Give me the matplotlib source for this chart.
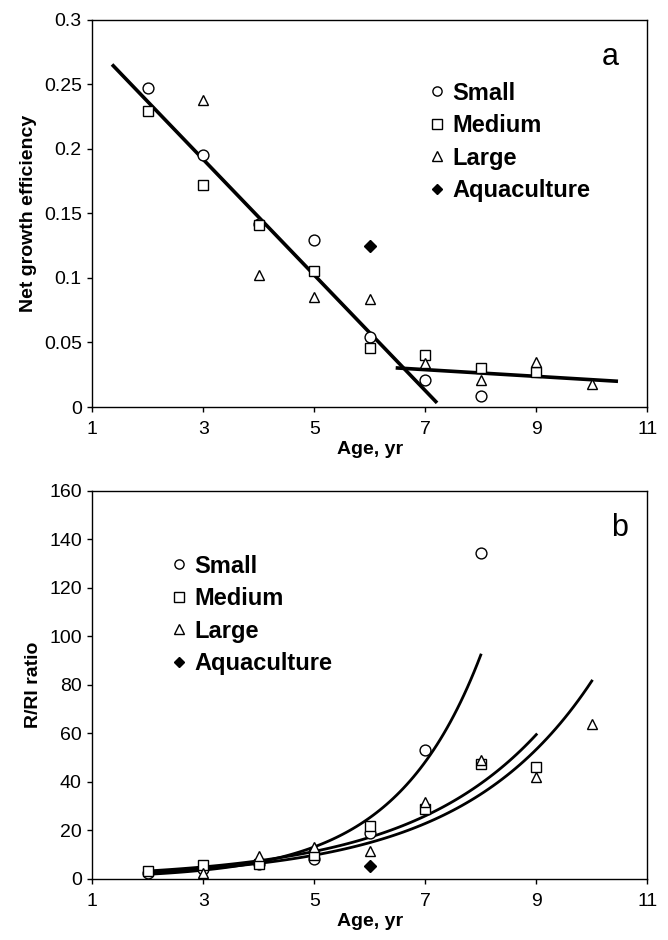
import numpy as np
import matplotlib
matplotlib.use("Agg")
import matplotlib.pyplot as plt
from matplotlib.ticker import FuncFormatter

plt.rcParams['font.family'] = ['Liberation Sans', 'DejaVu Sans']

### DATA ###
# panel a: net growth efficiency by age
nge_small_x = [2, 3, 4, 5, 6, 7, 8]
nge_small_y = [0.247, 0.195, 0.142, 0.129, 0.054, 0.021, 0.0085]
nge_medium_x = [2, 3, 4, 5, 6, 7, 8, 9]
nge_medium_y = [0.229, 0.172, 0.141, 0.105, 0.046, 0.040, 0.030, 0.027]
nge_large_x = [3, 4, 5, 6, 7, 8, 9, 10]
nge_large_y = [0.238, 0.102, 0.085, 0.084, 0.034, 0.021, 0.035, 0.018]
nge_aqua_x = [6]
nge_aqua_y = [0.125]

# panel b: R/RI ratio by age
rr_small_x = [2, 3, 4, 5, 6, 7, 8]
rr_small_y = [2.6, 4.0, 6.0, 8.2, 19.0, 53.0, 134.5]
rr_medium_x = [2, 3, 4, 5, 6, 7, 8, 9]
rr_medium_y = [3.2, 5.6, 6.0, 9.8, 21.6, 28.7, 47.4, 46.0]
rr_large_x = [3, 4, 5, 6, 7, 8, 9, 10]
rr_large_y = [2.3, 9.5, 13.3, 11.3, 31.5, 48.8, 42.0, 64.0]
rr_aqua_x = [6]
rr_aqua_y = [5.4]

labels = ['Small', 'Medium', 'Large', 'Aquaculture']

# trend line spans (x ranges the fitted lines are drawn over)
span_a_early = (1.38, 7.19)
span_a_late = (6.5, 10.44)


def style_axes(ax):
    ax.set_xlim(1, 11)
    ax.set_xticks([1, 3, 5, 7, 9, 11])
    for s in ax.spines.values():
        s.set_linewidth(1.0)
    ax.tick_params(direction='out', length=3.5, width=1, labelsize=14)
    ax.tick_params(axis='x', pad=6.5)
    ax.tick_params(axis='y', pad=4)
    ax.set_xlabel('Age, yr', fontsize=14, fontweight='bold', labelpad=2)


def scatter_sets(ax, sets):
    mk = [dict(marker='o', ms=7.8, mfc='white', mec='black'),
          dict(marker='s', ms=7.8, mfc='white', mec='black'),
          dict(marker='^', ms=7.8, mfc='white', mec='black'),
          dict(marker='D', ms=6, mfc='black', mec='black')]
    for (x, y), m, lab in zip(sets, mk, labels):
        ax.plot(x, y, ls='none', mew=1.0, label=lab, zorder=3, **m)


def add_legend(ax, anchor):
    ax.legend(loc='upper left', bbox_to_anchor=anchor, frameon=False,
              prop={'size': 17, 'weight': 'bold'}, handlelength=0.6, handletextpad=0.33,
              labelspacing=0.4, borderpad=0, borderaxespad=0, markerscale=0.85, numpoints=1)


fig = plt.figure(figsize=(6.68, 9.4), dpi=100)
ax1 = fig.add_axes([0.138, 0.567, 0.831, 0.412])
ax2 = fig.add_axes([0.138, 0.065, 0.831, 0.413])

# ---- panel a ----
scatter_sets(ax1, [(nge_small_x, nge_small_y), (nge_medium_x, nge_medium_y),
                   (nge_large_x, nge_large_y), (nge_aqua_x, nge_aqua_y)])

# broken-stick linear fits: ages <= 6 and ages >= 7 (size classes pooled)
all_x = np.array(nge_small_x + nge_medium_x + nge_large_x, dtype=float)
all_y = np.array(nge_small_y + nge_medium_y + nge_large_y)
early = all_x <= 6
p1 = np.polyfit(all_x[early], all_y[early], 1)
p2 = np.polyfit(all_x[~early], all_y[~early], 1)
xs = np.array(span_a_early)
ax1.plot(xs, np.polyval(p1, xs), color='black', lw=2.6, zorder=2)
xs = np.array(span_a_late)
ax1.plot(xs, np.polyval(p2, xs), color='black', lw=2.6, zorder=2)

ax1.set_ylim(0, 0.3)
ax1.set_yticks(np.arange(0, 0.31, 0.05))
ax1.yaxis.set_major_formatter(FuncFormatter(lambda v, p: '%g' % round(v, 2)))
style_axes(ax1)
ax1.set_ylabel('Net growth efficiency', fontsize=14, fontweight='bold', labelpad=5)
ax1.text(0.933, 0.905, 'a', transform=ax1.transAxes, fontsize=22, ha='center', va='center')
add_legend(ax1, (0.609, 0.84))

# ---- panel b ----
scatter_sets(ax2, [(rr_small_x, rr_small_y), (rr_medium_x, rr_medium_y),
                   (rr_large_x, rr_large_y), (rr_aqua_x, rr_aqua_y)])

# exponential trend lines (least squares on log values), drawn from age 2
for x, y in [(rr_small_x, rr_small_y), (rr_medium_x, rr_medium_y), (rr_large_x, rr_large_y)]:
    b, lna = np.polyfit(x, np.log(y), 1)
    xs = np.linspace(2, max(x), 100)
    ax2.plot(xs, np.exp(lna + b * xs), color='black', lw=2.0, zorder=2)

ax2.set_ylim(0, 160)
ax2.set_yticks(np.arange(0, 161, 20))
style_axes(ax2)
ax2.set_ylabel('R/RI ratio', fontsize=14, fontweight='bold', labelpad=5)
ax2.text(0.95, 0.905, 'b', transform=ax2.transAxes, fontsize=22, ha='center', va='center')
add_legend(ax2, (0.144, 0.835))

fig.savefig('out.png', dpi=100)
